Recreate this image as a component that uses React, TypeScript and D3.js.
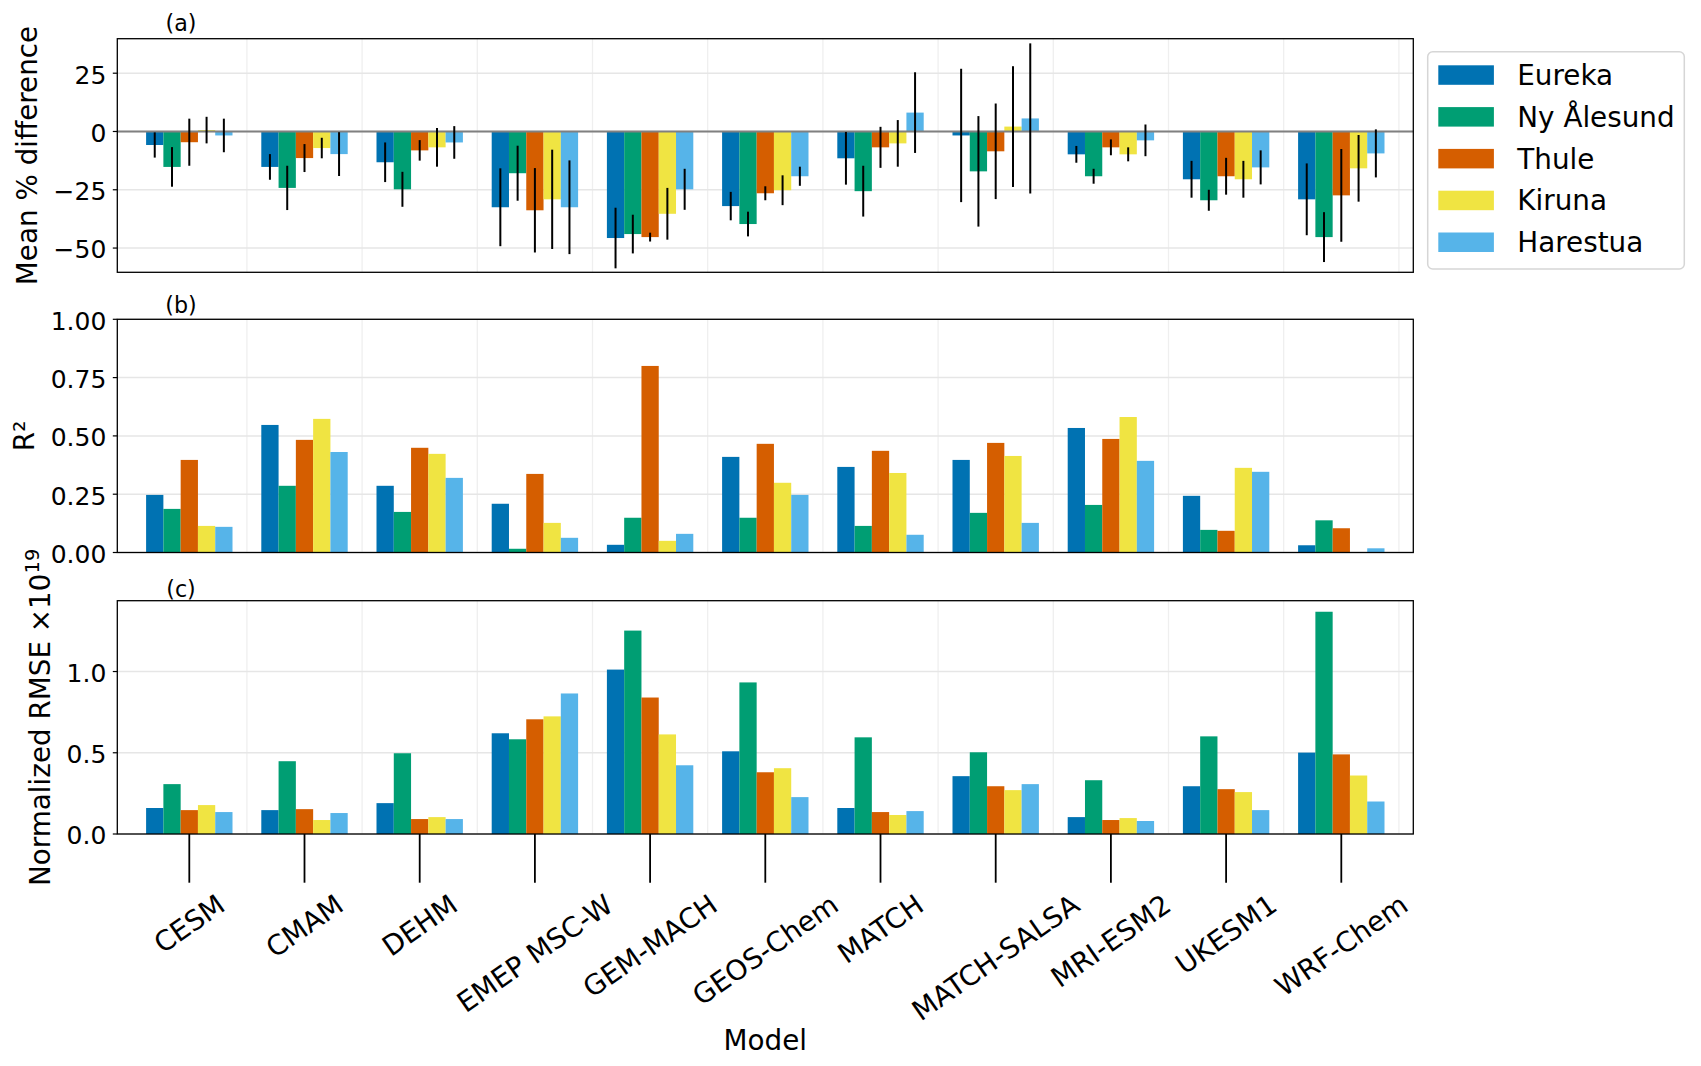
import React, { useEffect, useRef } from 'react';
import * as d3 from 'd3';

// ---------------- DATA ----------------
const models = ['CESM', 'CMAM', 'DEHM', 'EMEP MSC-W', 'GEM-MACH', 'GEOS-Chem', 'MATCH', 'MATCH-SALSA', 'MRI-ESM2', 'UKESM1', 'WRF-Chem'];
const stations = ['Eureka', 'Ny Ålesund', 'Thule', 'Kiruna', 'Harestua'];
const stationColors = ['#0072B2', '#009E73', '#D55E00', '#F0E442', '#56B4E9'];

// (a) mean % difference, one row per station, one value per model
const meanDiff: number[][] = [
  [-5.8, -15.2, -13.2, -32.5, -45.7, -32.0, -11.5, -1.7, -9.8, -20.5, -29.1],
  [-15.2, -24.2, -24.8, -17.9, -44.0, -39.7, -25.6, -17.1, -19.2, -29.5, -45.3],
  [-4.6, -11.4, -8.1, -33.8, -45.3, -26.5, -6.8, -8.5, -6.8, -19.2, -27.4],
  [0.6, -7.1, -6.8, -29.1, -35.3, -25.2, -5.1, 2.1, -9.8, -20.5, -15.8],
  [-1.7, -9.7, -4.7, -32.5, -24.8, -19.2, 8.1, 5.6, -3.8, -15.4, -9.4],
];
// (a) error bar half-widths
const meanDiffErr: number[][] = [
  [5.4, 5.5, 8.5, 16.7, 13.0, 6.1, 11.3, 28.6, 3.6, 7.9, 15.4],
  [8.5, 9.5, 7.5, 11.8, 8.3, 5.3, 10.9, 23.7, 3.2, 4.5, 10.7],
  [10.1, 6.0, 4.4, 18.1, 1.9, 3.0, 8.8, 20.5, 3.4, 7.9, 19.9],
  [5.7, 4.4, 8.3, 21.3, 11.1, 6.4, 10.0, 25.9, 3.0, 7.9, 14.3],
  [7.2, 9.4, 7.0, 20.1, 8.8, 4.1, 17.3, 32.2, 6.8, 7.3, 10.3],
];
// (b) R²
const r2: number[][] = [
  [0.247, 0.547, 0.286, 0.209, 0.033, 0.41, 0.367, 0.397, 0.534, 0.243, 0.031],
  [0.187, 0.286, 0.174, 0.016, 0.149, 0.149, 0.114, 0.17, 0.204, 0.097, 0.138],
  [0.397, 0.483, 0.449, 0.337, 0.8, 0.466, 0.436, 0.47, 0.487, 0.093, 0.104],
  [0.114, 0.573, 0.423, 0.127, 0.05, 0.299, 0.341, 0.414, 0.581, 0.363, 0.0],
  [0.11, 0.431, 0.32, 0.063, 0.08, 0.247, 0.076, 0.127, 0.393, 0.346, 0.018],
];
// (c) normalized RMSE (x1e19)
const rmse: number[][] = [
  [0.16, 0.147, 0.19, 0.62, 1.012, 0.509, 0.16, 0.356, 0.104, 0.294, 0.501],
  [0.307, 0.448, 0.497, 0.583, 1.252, 0.933, 0.595, 0.503, 0.331, 0.601, 1.368],
  [0.147, 0.153, 0.092, 0.706, 0.84, 0.38, 0.135, 0.294, 0.086, 0.276, 0.49],
  [0.178, 0.086, 0.104, 0.724, 0.613, 0.405, 0.117, 0.27, 0.098, 0.258, 0.36],
  [0.135, 0.129, 0.092, 0.865, 0.423, 0.227, 0.141, 0.307, 0.08, 0.147, 0.2],
];

const ticksA = [-50, -25, 0, 25];
const ticksB = [0, 0.25, 0.5, 0.75, 1.0];
const ticksC = [0, 0.5, 1.0];
const tickFmtA = (v: number) => d3.format('d')(v).replace('-', '−');
const tickFmtB = (v: number) => d3.format('.2f')(v);
const tickFmtC = (v: number) => d3.format('.1f')(v);

// ---------------- LAYOUT ----------------
const W = 1701;
const H = 1066;
const FONT = 'DejaVu Sans, sans-serif';
const TICK_FS = 25;
const XTICK_FS = 27.8;
const LABEL_FS = 27.8;
const LEFT = 117.3;
const RIGHT = 1413.3;
const BAR_W = 0.15;
const X_LABEL_TOP = 888;

const x = d3.scaleLinear().domain([-0.625, 10.625]).range([LEFT, RIGHT]);

type PanelProps = {
  top: number;
  bottom: number;
  domain: [number, number];
  ticks: number[];
  fmt: (v: number) => string;
  data: number[][];
  err?: number[][];
  tag: string;
  tagOffset: number;
  ylabel: React.ReactNode;
  ylabelX: number;
  zeroLine?: boolean;
  xTicks?: boolean;
};

function Panel(p: PanelProps) {
  const y = d3.scaleLinear().domain(p.domain).range([p.bottom, p.top]);
  const y0 = y(0);
  const gridX = d3.range(0.5, 11, 1);
  const bw = x(BAR_W) - x(0);
  return (
    <g>
      {/* grid */}
      {gridX.map((g) => (
        <line key={'gx' + g} x1={x(g)} x2={x(g)} y1={p.top} y2={p.bottom} stroke="#efefef" strokeWidth={1.3} />
      ))}
      {p.ticks.map((t) => (
        <line key={'gy' + t} x1={LEFT} x2={RIGHT} y1={y(t)} y2={y(t)} stroke="#e6e6e6" strokeWidth={1.5} />
      ))}
      {/* bars */}
      {p.data.map((row, j) =>
        row.map((v, i) => {
          const cx = x(i + (j - 2) * BAR_W);
          const yv = y(v);
          return (
            <rect
              key={`b${j}-${i}`}
              x={cx - bw / 2}
              width={bw}
              y={Math.min(yv, y0)}
              height={Math.abs(yv - y0)}
              fill={stationColors[j]}
            />
          );
        })
      )}
      {p.zeroLine && <line x1={LEFT} x2={RIGHT} y1={y0} y2={y0} stroke="#808080" strokeWidth={2.2} />}
      {/* error bars */}
      {p.err &&
        p.data.map((row, j) =>
          row.map((v, i) => {
            const cx = x(i + (j - 2) * BAR_W);
            const e = p.err![j][i];
            return <line key={`e${j}-${i}`} x1={cx} x2={cx} y1={y(v + e)} y2={y(v - e)} stroke="#000" strokeWidth={2} />;
          })
        )}
      {/* frame */}
      <rect x={LEFT} y={p.top} width={RIGHT - LEFT} height={p.bottom - p.top} fill="none" stroke="#000" strokeWidth={1.3} />
      {/* y ticks */}
      {p.ticks.map((t) => (
        <g key={'t' + t}>
          <line x1={LEFT - 4.5} x2={LEFT} y1={y(t)} y2={y(t)} stroke="#000" strokeWidth={1.2} />
          <text x={LEFT - 11} y={y(t) + 10.3} textAnchor="end" fontSize={TICK_FS} fontFamily={FONT} fill="#000">
            {p.fmt(t)}
          </text>
        </g>
      ))}
      {/* x ticks */}
      {p.xTicks &&
        models.map((m, i) => (
          <line key={'xt' + i} x1={x(i)} x2={x(i)} y1={p.bottom} y2={p.bottom + 48.7} stroke="#000" strokeWidth={1.8} />
        ))}
      {/* panel tag */}
      <text x={181} y={p.top - p.tagOffset} textAnchor="middle" fontSize={22.2} fontFamily={FONT} fill="#000">
        {p.tag}
      </text>
      {/* y label */}
      <text
        transform={`translate(${p.ylabelX},${(p.top + p.bottom) / 2}) rotate(-90)`}
        textAnchor="middle"
        fontSize={LABEL_FS}
        fontFamily={FONT}
        fill="#000"
      >
        {p.ylabel}
      </text>
    </g>
  );
}

function XLabels() {
  const ref = useRef<SVGGElement>(null);
  useEffect(() => {
    if (!ref.current) return;
    const a = (35 * Math.PI) / 180;
    const h = 1.164 * XTICK_FS;
    d3.select(ref.current)
      .selectAll<SVGTextElement, unknown>('text')
      .each(function (_d, i) {
        const w = this.getComputedTextLength();
        const hb = w * Math.sin(a) + h * Math.cos(a);
        this.setAttribute('transform', `translate(${x(i)},${X_LABEL_TOP + hb / 2}) rotate(-35)`);
      });
  }, []);
  return (
    <g ref={ref}>
      {models.map((m, i) => (
        <text
          key={m}
          transform={`translate(${x(i)},${X_LABEL_TOP + 50}) rotate(-35)`}
          textAnchor="middle"
          dy="0.346em"
          fontSize={XTICK_FS}
          fontFamily={FONT}
          fill="#000"
        >
          {m}
        </text>
      ))}
    </g>
  );
}

function Legend() {
  const bx = 1427.7;
  const by = 51.7;
  return (
    <g>
      <rect x={bx} y={by} width={256.6} height={217.3} rx={5} fill="#fff" stroke="#d6d6d6" strokeWidth={1.5} />
      {stations.map((s, j) => (
        <g key={s}>
          <rect x={1438.3} y={65.3 + 41.8 * j} width={55.6} height={19.5} fill={stationColors[j]} />
          <text x={1517.3} y={85 + 41.8 * j} fontSize={LABEL_FS} fontFamily={FONT} fill="#000">
            {s}
          </text>
        </g>
      ))}
    </g>
  );
}

export default function App() {
  return (
    <svg width={W} height={H} style={{ position: 'absolute', left: 0, top: 0, background: '#fff' }}>
      <rect x={0} y={0} width={W} height={H} fill="#fff" />
      <Panel
        top={38.7}
        bottom={272.3}
        domain={[-60.4, 39.8]}
        ticks={ticksA}
        fmt={tickFmtA}
        data={meanDiff}
        err={meanDiffErr}
        tag="(a)"
        tagOffset={7.8}
        ylabel="Mean % difference"
        ylabelX={36.7}
        zeroLine
      />
      <Panel
        top={319.3}
        bottom={552.5}
        domain={[0, 1]}
        ticks={ticksB}
        fmt={tickFmtB}
        data={r2}
        tag="(b)"
        tagOffset={6}
        ylabel="R²"
        ylabelX={34}
      />
      <Panel
        top={600.7}
        bottom={834}
        domain={[0, 1.436]}
        ticks={ticksC}
        fmt={tickFmtC}
        data={rmse}
        tag="(c)"
        tagOffset={3.8}
        ylabel={
          <>
            <tspan>Normalized RMSE ×10</tspan>
            <tspan dy={-11} fontSize={19.5}>19</tspan>
          </>
        }
        ylabelX={50}
        xTicks
      />
      <XLabels />
      <text x={(LEFT + RIGHT) / 2} y={1050} textAnchor="middle" fontSize={LABEL_FS} fontFamily={FONT} fill="#000">
        Model
      </text>
      <Legend />
    </svg>
  );
}
